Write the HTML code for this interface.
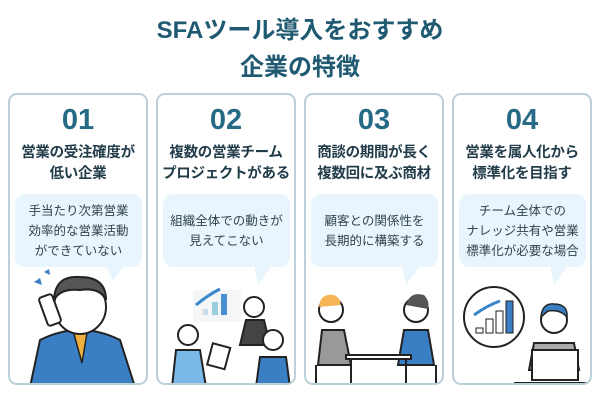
<!DOCTYPE html>
<html><head><meta charset="utf-8"><style>
*{margin:0;padding:0;box-sizing:border-box}
body{width:600px;height:400px;background:#fff;font-family:"Liberation Sans","Noto Sans CJK JP",sans-serif;position:relative;overflow:hidden}
.t{position:absolute;left:0;width:600px;text-align:center;color:#1f5a72;font-weight:bold;font-size:24px;line-height:30px}
.card{position:absolute;top:93px;width:140px;height:292px;border:2px solid #bcd0d9;border-radius:9px;background:#fff;overflow:hidden}
.num{position:absolute;top:8px;width:100%;text-align:center;font-size:29px;font-weight:bold;color:#266a86;line-height:34px}
.h{position:absolute;top:48px;width:100%;text-align:center;font-size:14.5px;font-weight:bold;color:#223c4a;line-height:21px;letter-spacing:-0.3px}
.b{position:absolute;top:99px;left:5px;width:127px;height:73px;background:#e8f5fc;border-radius:10px;display:flex;align-items:center;justify-content:center;text-align:center;font-size:12.5px;color:#33434c;line-height:20px}
svg{position:absolute;left:0;top:0}
</style></head><body>
<div class="t" style="top:16px">SFAツール導入をおすすめ</div>
<div class="t" style="top:53px">企業の特徴</div>

<div class="card" style="left:8px">
<div class="num">01</div><div class="h">営業の受注確度が<br>低い企業</div>
<div class="b">手当たり次第営業<br>効率的な営業活動<br>ができていない</div>
<svg width="140" height="292"><polygon points="96,171 114,171 103,186" fill="#e8f5fc"/>
<path d="M20,292 L30,245 Q70,225 110,245 L125,292Z" fill="#3a7fc4" stroke="#222" stroke-width="2"/>
<polygon points="62,232 78,232 72,268" fill="#f0b040" stroke="#222" stroke-width="1.5"/>
<ellipse cx="70" cy="212" rx="26" ry="27" fill="#fff" stroke="#222" stroke-width="2"/>
<path d="M44,205 Q45,180 70,182 Q96,182 96,205 Q90,192 70,195 Q50,193 44,205Z" fill="#555" stroke="#222" stroke-width="2"/>
<rect x="33" y="200" width="14" height="30" rx="3" fill="#fff" stroke="#222" stroke-width="2" transform="rotate(-20 40 215)"/>
<path d="M24,187 l6,-4 l2,7z M34,177 l5,-3 l1,6z" fill="#3a7fc4"/></svg>
</div>

<div class="card" style="left:156px">
<div class="num">02</div><div class="h">複数の営業チーム<br>プロジェクトがある</div>
<div class="b">組織全体での動きが<br>見えてこない</div>
<svg width="140" height="292"><polygon points="96,171 114,171 100,190" fill="#e8f5fc"/>
<rect x="35" y="195" width="48" height="32" fill="#f4f6f8"/>
<rect x="45" y="214" width="5" height="6" fill="#cde"/><rect x="54" y="207" width="6" height="13" fill="#9cd"/><rect x="63" y="199" width="6" height="21" fill="#4b8fd0"/>
<path d="M38,210 Q50,200 62,194" stroke="#3a86cc" stroke-width="3" fill="none"/>
<circle cx="96" cy="212" r="10" fill="#fff" stroke="#222" stroke-width="2"/><path d="M82,250 L88,225 L106,225 L112,250Z" fill="#444" stroke="#222" stroke-width="2"/>
<circle cx="30" cy="240" r="10" fill="#fff" stroke="#222" stroke-width="2"/><path d="M14,292 L18,255 L42,255 L48,292Z" fill="#7ab8e8" stroke="#222" stroke-width="2"/>
<circle cx="115" cy="245" r="10" fill="#fff" stroke="#222" stroke-width="2"/><path d="M98,292 L102,262 L128,262 L132,292Z" fill="#3a7fc4" stroke="#222" stroke-width="2"/>
<rect x="52" y="250" width="18" height="22" fill="#fff" stroke="#222" stroke-width="2" transform="rotate(15 60 260)"/></svg>
</div>

<div class="card" style="left:304px">
<div class="num">03</div><div class="h">商談の期間が長く<br>複数回に及ぶ商材</div>
<div class="b">顧客との関係性を<br>長期的に構築する</div>
<svg width="140" height="292"><polygon points="96,171 114,171 100,190" fill="#e8f5fc"/>
<circle cx="25" cy="215" r="12" fill="#fff" stroke="#222" stroke-width="2"/><path d="M13,212 Q14,198 28,200 Q36,204 34,210Z" fill="#f5b555"/>
<path d="M12,270 L16,235 L38,235 L45,270Z" fill="#999" stroke="#222" stroke-width="2"/>
<circle cx="110" cy="215" r="12" fill="#fff" stroke="#222" stroke-width="2"/><path d="M100,210 Q104,196 118,200 Q124,206 122,214Z" fill="#555"/>
<path d="M92,270 L98,235 L122,235 L128,270Z" fill="#3a7fc4" stroke="#222" stroke-width="2"/>
<rect x="40" y="260" width="65" height="4" fill="#fff" stroke="#222" stroke-width="2"/>
<path d="M45,264 V292 M100,264 V292 M10,270 V292 M130,270 V292" stroke="#222" stroke-width="2"/></svg>
</div>

<div class="card" style="left:452px">
<div class="num">04</div><div class="h">営業を属人化から<br>標準化を目指す</div>
<div class="b">チーム全体での<br>ナレッジ共有や営業<br>標準化が必要な場合</div>
<svg width="140" height="292"><polygon points="96,171 114,171 100,190" fill="#e8f5fc"/>
<circle cx="40" cy="222" r="30" fill="#fff" stroke="#222" stroke-width="2"/>
<rect x="22" y="233" width="7" height="5" fill="#fff" stroke="#222"/><rect x="32" y="224" width="7" height="14" fill="#fff" stroke="#222"/><rect x="42" y="216" width="7" height="22" fill="#fff" stroke="#222"/><rect x="52" y="206" width="7" height="32" fill="#3a7fc4" stroke="#222"/>
<path d="M20,220 Q34,210 46,206" stroke="#3a86cc" stroke-width="3" fill="none"/>
<circle cx="100" cy="225" r="13" fill="#fff" stroke="#222" stroke-width="2"/><path d="M87,222 Q88,208 100,209 Q114,209 113,222 Q106,214 94,216Z" fill="#3a7fc4" stroke="#222" stroke-width="1.5"/>
<path d="M75,275 L80,248 L120,248 L125,275Z" fill="#aaa" stroke="#222" stroke-width="2"/>
<rect x="78" y="255" width="46" height="30" fill="#fff" stroke="#222" stroke-width="2"/>
<path d="M60,288 H140" stroke="#222" stroke-width="2"/></svg>
</div>
</body></html>
